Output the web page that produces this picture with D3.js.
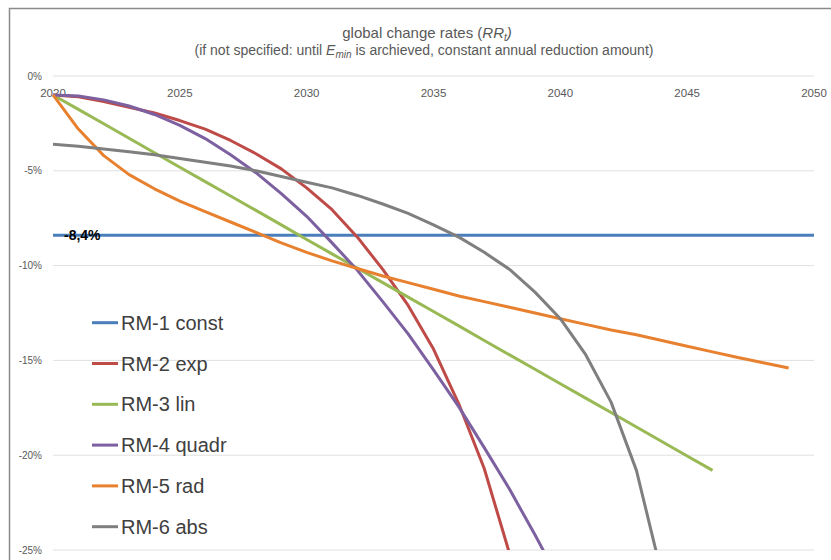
<!DOCTYPE html>
<html>
<head>
<meta charset="utf-8">
<script src="https://cdn.jsdelivr.net/npm/d3@7"></script>
<style>
  body { margin: 0; background: #fff; }
  svg { display: block; font-family: "Liberation Sans", Arial, sans-serif; }
</style>
</head>
<body>
<svg id="chart" width="831" height="560"></svg>
<script>
// categories (years) and tick labels
const xTicks = [2020, 2025, 2030, 2035, 2040, 2045, 2050];
const yTicks = [0, -5, -10, -15, -20, -25];

// series values in %, one per year starting in 2020
const rm1 = [-8.4, -8.4, -8.4, -8.4, -8.4, -8.4, -8.4, -8.4, -8.4, -8.4, -8.4,
             -8.4, -8.4, -8.4, -8.4, -8.4, -8.4, -8.4, -8.4, -8.4, -8.4,
             -8.4, -8.4, -8.4, -8.4, -8.4, -8.4, -8.4, -8.4, -8.4, -8.4];
const rm2 = [-1.0, -1.1, -1.35, -1.65, -1.95, -2.35, -2.8, -3.4, -4.1, -4.9,
             -5.9, -7.05, -8.5, -10.2, -12.1, -14.4, -17.3, -20.7, -25.2];
const rm3 = [-1.0, -1.76, -2.52, -3.28, -4.05, -4.81, -5.57, -6.33, -7.09, -7.85,
             -8.62, -9.38, -10.14, -10.9, -11.66, -12.42, -13.18, -13.95, -14.71, -15.47,
             -16.23, -16.99, -17.75, -18.51, -19.28, -20.04, -20.8];
const rm4 = [-1.0, -1.06, -1.26, -1.58, -2.03, -2.6, -3.3, -4.15, -5.1, -6.2,
             -7.4, -8.8, -10.25, -11.9, -13.6, -15.5, -17.45, -19.6, -21.8, -24.2, -26.7];
const rm5 = [-1.0, -2.8, -4.2, -5.2, -5.95, -6.6, -7.15, -7.7, -8.25, -8.8,
             -9.3, -9.75, -10.15, -10.55, -10.9, -11.25, -11.6, -11.9, -12.2, -12.5,
             -12.8, -13.1, -13.4, -13.65, -13.95, -14.25, -14.55, -14.85, -15.12, -15.4];
const rm6 = [-3.6, -3.7, -3.85, -4.0, -4.15, -4.35, -4.55, -4.75, -5.0, -5.3,
             -5.6, -5.9, -6.3, -6.75, -7.25, -7.85, -8.5, -9.3, -10.2, -11.4,
             -12.8, -14.7, -17.2, -20.8, -26.3];

const seriesNames = ['RM-1 const', 'RM-2 exp', 'RM-3 lin', 'RM-4 quadr', 'RM-5 rad', 'RM-6 abs'];
const seriesValues = [rm1, rm2, rm3, rm4, rm5, rm6];
const colors = ['#4a7ebb', '#be4b48', '#98b954', '#7d60a0', '#e8812f', '#7f7f7f'];

const svg = d3.select('#chart');

// outer frame (only top and left edges visible)
svg.append('path')
  .attr('d', 'M9.5,560V8.5H831')
  .attr('fill', 'none')
  .attr('stroke', '#8a8a8a')
  .attr('stroke-width', 1.5);

// scales
const x = d3.scaleLinear().domain([2020, 2050]).range([53, 814]);
const y = d3.scaleLinear().domain([-25, 0]).range([550, 76]);

// gridlines
svg.append('g')
  .selectAll('line')
  .data(yTicks)
  .enter()
  .append('line')
  .attr('x1', x(2020))
  .attr('x2', x(2050))
  .attr('y1', d => y(d))
  .attr('y2', d => y(d))
  .attr('stroke', '#e0e0e0')
  .attr('stroke-width', 1);

// y tick labels
svg.append('g')
  .selectAll('text')
  .data(yTicks)
  .enter()
  .append('text')
  .attr('x', 42)
  .attr('y', d => y(d) + 3.5)
  .attr('text-anchor', 'end')
  .attr('font-size', 10)
  .attr('fill', '#595959')
  .text(d => d + '%');

// x tick labels (below the 0% line)
svg.append('g')
  .selectAll('text')
  .data(xTicks)
  .enter()
  .append('text')
  .attr('x', d => x(d))
  .attr('y', y(0) + 21)
  .attr('text-anchor', 'middle')
  .attr('font-size', 11.5)
  .attr('fill', '#595959')
  .text(d => d);

// clip to the plot area
svg.append('clipPath')
  .attr('id', 'plot')
  .append('rect')
  .attr('x', x(2020) - 5)
  .attr('y', y(0))
  .attr('width', x(2050) - x(2020) + 10)
  .attr('height', y(-25) - y(0));

const line = d3.line()
  .x((d, i) => x(2020 + i))
  .y(d => y(d));

svg.append('g')
  .attr('clip-path', 'url(#plot)')
  .selectAll('path')
  .data(seriesValues)
  .enter()
  .append('path')
  .attr('d', line)
  .attr('fill', 'none')
  .attr('stroke', (d, i) => colors[i])
  .attr('stroke-width', 3)
  .attr('stroke-linejoin', 'round');

// data label of the constant rate
svg.append('text')
  .attr('x', 64)
  .attr('y', y(rm1[0]) + 5)
  .attr('font-size', 14)
  .attr('font-weight', 'bold')
  .attr('fill', '#000')
  .text(String(rm1[0]).replace('.', ',') + '%');

// legend
const legend = svg.append('g')
  .selectAll('g')
  .data(seriesNames)
  .enter()
  .append('g')
  .attr('transform', (d, i) => `translate(92, ${322.7 + i * 40.8})`);

legend.append('line')
  .attr('x1', 0)
  .attr('x2', 26)
  .attr('stroke', (d, i) => colors[i])
  .attr('stroke-width', 3);

legend.append('text')
  .attr('x', 29)
  .attr('y', 7)
  .attr('font-size', 20)
  .attr('fill', '#404040')
  .text(d => d);

// titles
const title = svg.append('text')
  .attr('x', 427)
  .attr('y', 38)
  .attr('text-anchor', 'middle')
  .attr('font-size', 15)
  .attr('fill', '#595959');
title.append('tspan').text('global change rates (');
title.append('tspan').attr('font-style', 'italic').text('RR');
title.append('tspan').attr('font-style', 'italic').attr('font-size', 10).attr('dy', 3).text('t');
title.append('tspan').attr('font-style', 'italic').attr('dy', -3).text(')');

const sub = svg.append('text')
  .attr('x', 424)
  .attr('y', 55)
  .attr('text-anchor', 'middle')
  .attr('font-size', 14)
  .attr('fill', '#595959');
sub.append('tspan').text('(if not specified: until ');
sub.append('tspan').attr('font-style', 'italic').text('E');
sub.append('tspan').attr('font-style', 'italic').attr('font-size', 10).attr('dy', 2.5).text('min');
sub.append('tspan').attr('dy', -2.5).text(' is archieved, constant annual reduction amount)');
</script>
</body>
</html>
